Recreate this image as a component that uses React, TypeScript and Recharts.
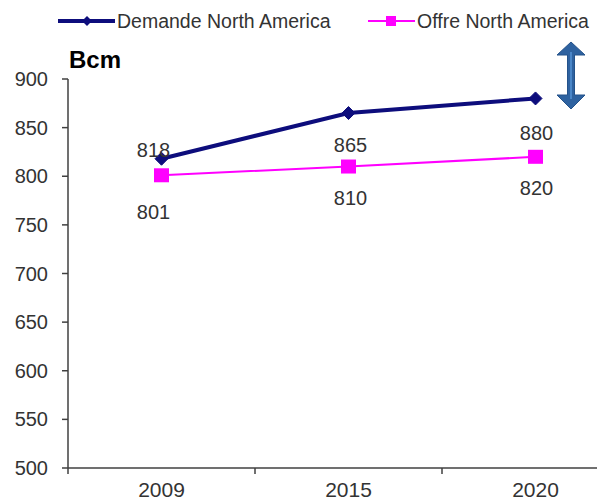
import React from "react";
import { LineChart, Line, XAxis, YAxis, LabelList } from "recharts";

const years = ["2009", "2015", "2020"];
const demande = [818, 865, 880];
const offre = [801, 810, 820];
const yTicks = [500, 550, 600, 650, 700, 750, 800, 850, 900];
const seriesNames = ["Demande North America", "Offre North America"];
const unitLabel = "Bcm";

const data = years.map((year, i) => ({
  year,
  demande: demande[i],
  offre: offre[i],
}));

const NAVY = "#0d0d7c";
const MAGENTA = "#ff00ff";
const TEXT = "#333333";
const AXIS = "#404040";
const FONT = "'Liberation Sans', Arial, sans-serif";

// label placement, the way excel put them
const demandeShift = [
  { dx: -8, dy: -9 },
  { dx: 2, dy: 32 },
  { dx: 1, dy: 34 },
];
const offreShift = [
  { dx: -8, dy: 37 },
  { dx: 2, dy: 31 },
  { dx: 1, dy: 31 },
];

const Diamond = (props: any) => {
  const { cx, cy } = props;
  if (cx == null || cy == null) return null;
  const r = 6.5;
  return (
    <polygon
      points={`${cx},${cy - r} ${cx + r},${cy} ${cx},${cy + r} ${cx - r},${cy}`}
      fill={NAVY}
      stroke={NAVY}
    />
  );
};

const Square = (props: any) => {
  const { cx, cy } = props;
  if (cx == null || cy == null) return null;
  return <rect x={cx - 7.5} y={cy - 7} width={15} height={14} fill={MAGENTA} />;
};

const makeLabel = (shift: { dx: number; dy: number }[]) => (props: any) => {
  const { x, y, value, index } = props;
  const s = shift[index] || { dx: 0, dy: 0 };
  return (
    <text
      x={x + s.dx}
      y={y + s.dy}
      dy="0.355em"
      textAnchor="middle"
      fontSize={20}
      fontFamily={FONT}
      fill={TEXT}
    >
      {value}
    </text>
  );
};

const YearTick = (props: any) => {
  const { x, y, payload, index } = props;
  const half = payload && payload.offset ? payload.offset : 93.5;
  return (
    <g>
      {index === 0 && (
        <line x1={x - half} y1={y} x2={x - half} y2={y + 6} stroke={AXIS} strokeWidth={1.5} />
      )}
      <line x1={x + half} y1={y} x2={x + half} y2={y + 6} stroke={AXIS} strokeWidth={1.5} />
      <text
        x={x}
        y={y + 22}
        dy="0.355em"
        textAnchor="middle"
        fontSize={21}
        fontFamily={FONT}
        fill={TEXT}
      >
        {payload.value}
      </text>
    </g>
  );
};

export default function App() {
  return (
    <div
      style={{
        position: "absolute",
        left: 0,
        top: 0,
        width: 597,
        height: 502,
        overflow: "hidden",
        background: "#fff",
      }}
    >
      <LineChart
        width={639}
        height={502}
        data={data}
        margin={{ top: 79, right: 10, bottom: 0, left: 0 }}
      >
        <XAxis
          dataKey="year"
          scale="band"
          height={34}
          tickLine={false}
          tickSize={0}
          tickMargin={0}
          interval={0}
          axisLine={{ stroke: AXIS, strokeWidth: 1.5 }}
          tick={<YearTick />}
        />
        <YAxis
          width={68}
          domain={[500, 900]}
          ticks={yTicks}
          interval={0}
          tickSize={6}
          tickMargin={14}
          axisLine={{ stroke: AXIS, strokeWidth: 1.5 }}
          tickLine={{ stroke: AXIS, strokeWidth: 1.5 }}
          tick={{ fontSize: 20, fill: TEXT, fontFamily: FONT }}
        />
        <Line
          dataKey="offre"
          name={seriesNames[1]}
          stroke={MAGENTA}
          strokeWidth={2}
          dot={<Square />}
          activeDot={false}
          isAnimationActive={false}
        >
          <LabelList dataKey="offre" content={makeLabel(offreShift)} />
        </Line>
        <Line
          dataKey="demande"
          name={seriesNames[0]}
          stroke={NAVY}
          strokeWidth={4}
          dot={<Diamond />}
          activeDot={false}
          isAnimationActive={false}
        >
          <LabelList dataKey="demande" content={makeLabel(demandeShift)} />
        </Line>
      </LineChart>

      {/* legend, unit and the arrow sit on top of the chart */}
      <svg
        width={597}
        height={502}
        style={{ position: "absolute", left: 0, top: 0, pointerEvents: "none" }}
      >
        <line x1={58} y1={21} x2={115} y2={21} stroke={NAVY} strokeWidth={4} />
        <polygon points="87,16 92,21 87,26 82,21" fill={NAVY} />
        <text x={117} y={28} fontSize={19.5} fontFamily={FONT} fill={TEXT}>
          {seriesNames[0]}
        </text>
        <line x1={368} y1={21} x2={415} y2={21} stroke={MAGENTA} strokeWidth={2} />
        <rect x={386} y={16} width={10} height={10} fill={MAGENTA} />
        <text x={417} y={28} fontSize={19.5} fontFamily={FONT} fill={TEXT}>
          {seriesNames[1]}
        </text>

        <text x={69} y={68} fontSize={24} fontWeight="bold" fontFamily={FONT} fill="#000">
          {unitLabel}
        </text>

        <polygon
          points="571,42 585,55 574.5,55 574.5,95 585,95 571,109 557,95 567.5,95 567.5,55 557,55"
          fill="#2e62a0"
          stroke="#24528a"
          strokeWidth={1}
        />
        <line x1={571} y1={52} x2={571} y2={99} stroke="#4a86c8" strokeWidth={2} />
      </svg>
    </div>
  );
}
